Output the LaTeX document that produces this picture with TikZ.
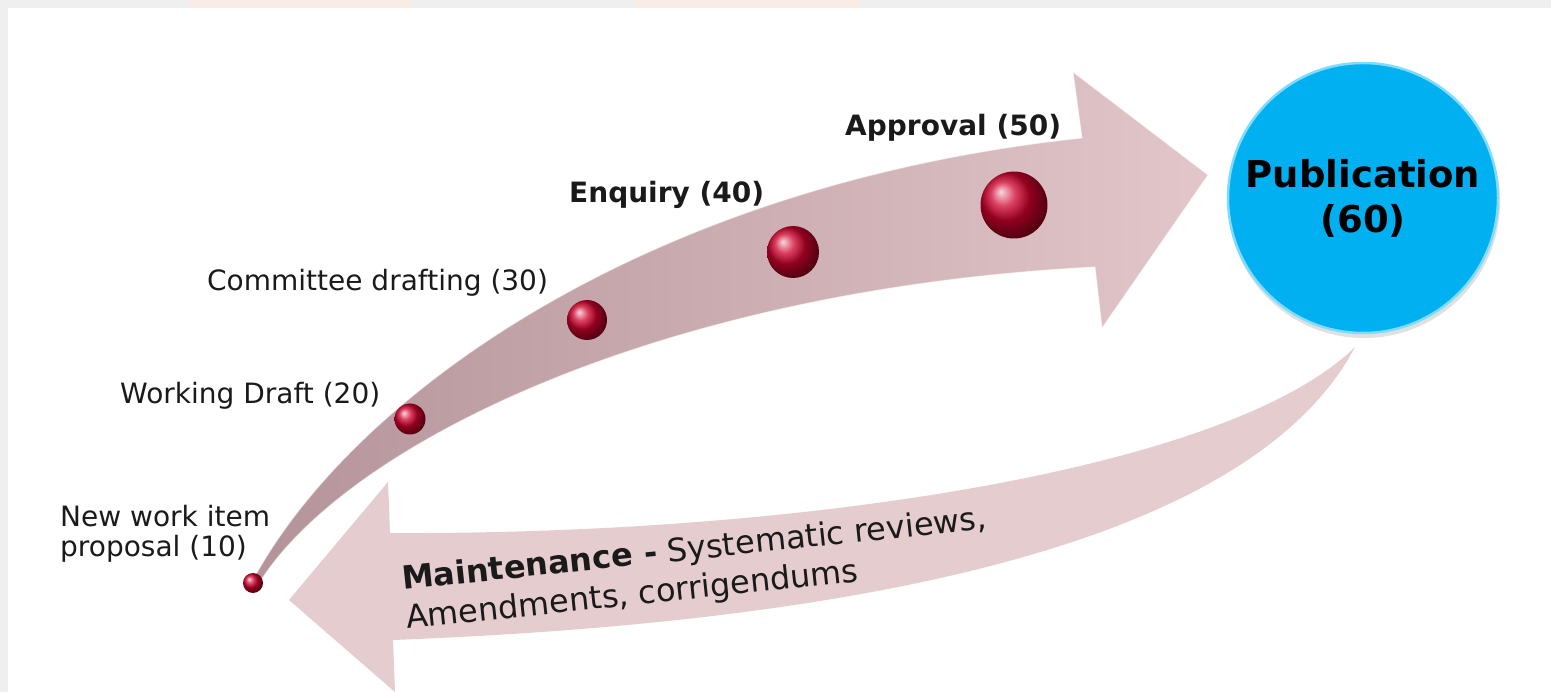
\documentclass[tikz,border=0pt]{standalone}
\usepackage{fontspec}
\setmainfont{DejaVu Sans}
\definecolor{txt}{HTML}{1A1A1A}
\definecolor{dotred}{HTML}{D0002C}
\definecolor{bandL}{HTML}{B4949A}
\definecolor{bandR}{HTML}{E2C6C9}
\definecolor{maint}{HTML}{E5CDCF}
\definecolor{pubblue}{HTML}{00B0F0}
\definecolor{pubrim}{HTML}{7FDCFF}
\definecolor{framegray}{HTML}{EFEFEF}
\definecolor{peach}{HTML}{F8ECE4}
\begin{document}
\begin{tikzpicture}[x=1pt,y=-1pt,
  lbl/.style={anchor=base west, inner sep=0, font=\fontsize{28}{30}\selectfont, text=txt},
  blbl/.style={anchor=base west, inner sep=0, font=\fontsize{28}{30}\selectfont\bfseries, text=txt},
  mlbl/.style={anchor=base west, inner sep=0, rotate=6, font=\fontsize{32}{38}\selectfont, text=txt},
  dot/.style={circle, inner sep=0, ball color=dotred},
  pubstyle/.style={circle, inner sep=0, minimum size=270, fill=pubblue, draw=pubrim, line width=2.5,
     align=center, font=\fontsize{37}{45}\selectfont\bfseries, text=black},
]
\useasboundingbox (0,0) rectangle (1551,692);
% frame
\fill[framegray] (0,0) rectangle (1551,692);
\fill[peach] (190,0) rectangle (410,8);
\fill[peach] (636,0) rectangle (860,8);
\fill[white] (8,8) rectangle (1551,692);
% maintenance arrow
\fill[maint] (390,533) .. controls (800,535) and (1230,470) .. (1355,347)
   .. controls (1240,565) and (780,625) .. (393,640)
   -- (395,692) -- (289,600) -- (388,482) -- cycle;
% main curved arrow
\shade[left color=bandL, right color=bandR]
   (253,580) .. controls (350,400) and (640,185) .. (1082,138)
   -- (1073,72) -- (1208,175) -- (1102,328) -- (1095,267)
   .. controls (650,290) and (340,450) .. (258,585) -- cycle;
\draw[white, opacity=.55, line width=1]
   (253,580) .. controls (350,400) and (640,185) .. (1082,138)
   -- (1073,72) -- (1208,175) -- (1102,328) -- (1095,267)
   .. controls (650,290) and (340,450) .. (258,585) -- cycle;
% publication
\fill[black, opacity=.12] (1364,202) circle (136);
\node[pubstyle] (pub) at (1363,198) {Publication\\(60)};
% dots
\foreach \p/\s/\n in {{(253,583)}/20/d10,{(410,419)}/31/d20,{(587,320)}/40/d30,{(793,252)}/52/d40,{(1014,205)}/67/d50}{
  \node[dot, minimum size=\s] (\n) at \p {};
}
% labels
\node[lbl, anchor=west, align=left] (l10) at (60,534) {New work item\\proposal (10)};
\node[lbl] (l20) at (120,404) {Working Draft (20)};
\node[lbl] (l30) at (207,291) {Committee drafting (30)};
\node[blbl] (l40) at (569,203) {Enquiry (40)};
\node[blbl] (l50) at (845,136) {Approval (50)};
\node[mlbl] (mt1) at (403,590) {\textbf{Maintenance -} Systematic reviews,};
\node[mlbl] (mt2) at (407,629) {Amendments, corrigendums};
\end{tikzpicture}
\end{document}
